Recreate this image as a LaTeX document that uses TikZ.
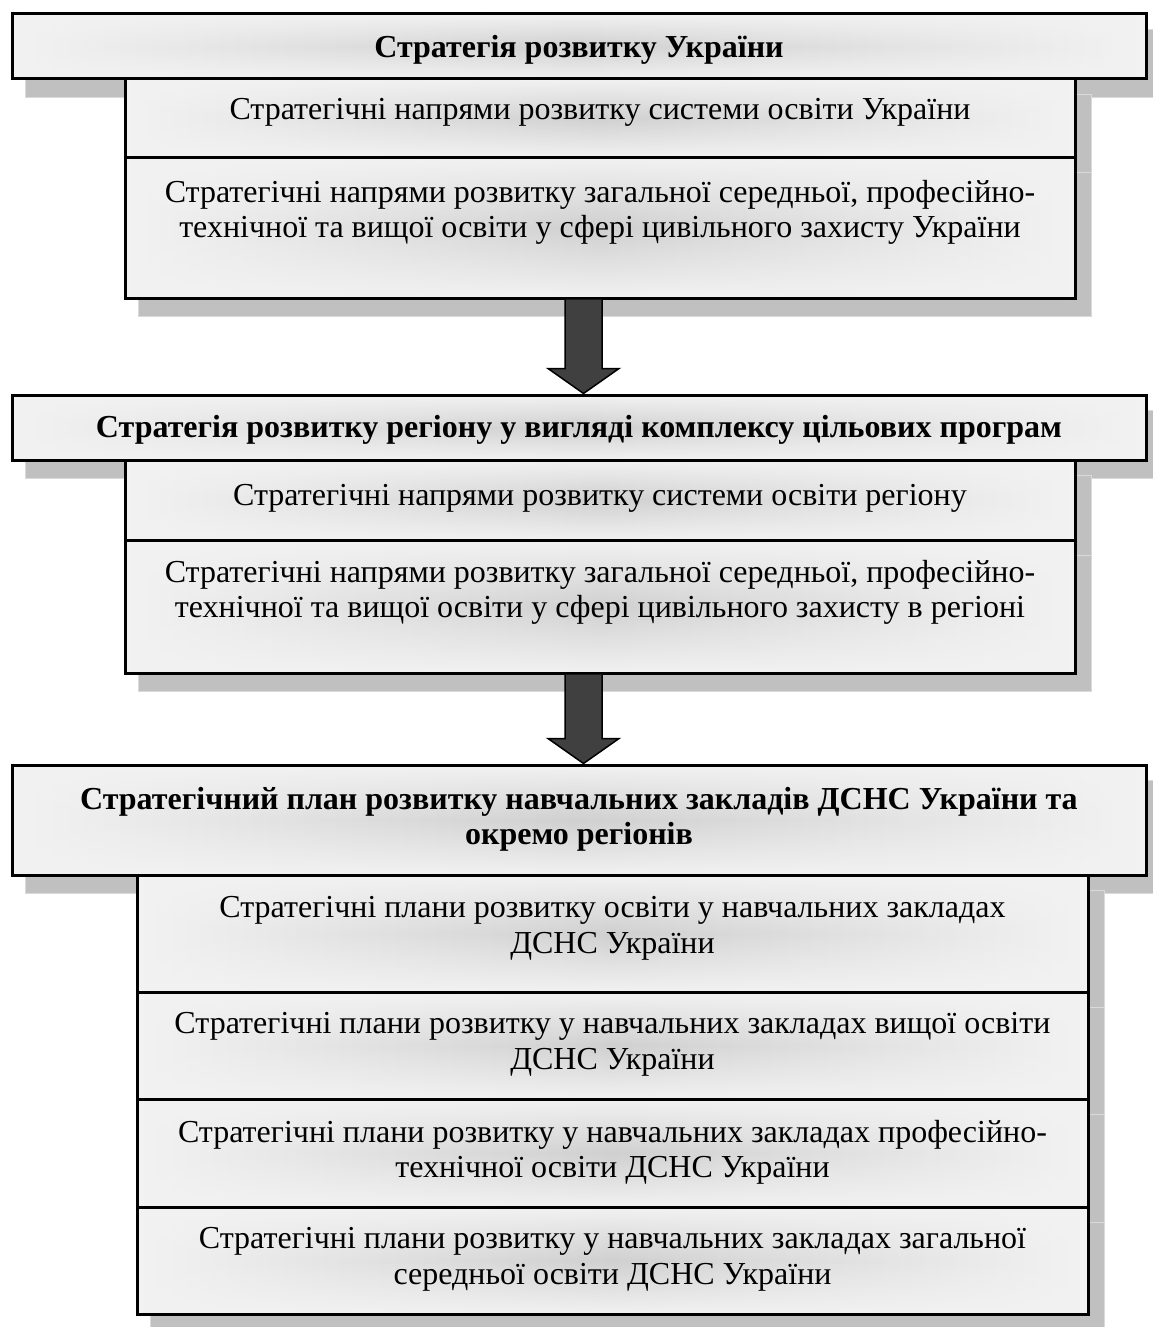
\documentclass[tikz,border=0pt]{standalone}
\usepackage{fontspec}
\setmainfont{Liberation Serif}
\usetikzlibrary{fit,calc,fadings}
\definecolor{edgec}{HTML}{F2F2F2}
\definecolor{midc}{HTML}{D0D0D0}
\definecolor{shadc}{HTML}{C0C0C0}
\definecolor{shadl}{HTML}{DADADA}
\definecolor{arrc}{HTML}{404040}
\pgfdeclarelayer{bg}
\pgfsetlayers{bg,main}
\tikzfading[name=vmid, top color=transparent!100, bottom color=transparent!100, middle color=transparent!0]
\tikzset{
 panel/.style={draw=black, line width=3pt, inner sep=0pt,
   preaction={fill=edgec},
   preaction={left color=edgec, right color=edgec, middle color=midc, path fading=vmid}},
 shadowbox/.style={fill=shadc, draw=shadl, line width=1pt},
 txt/.style={font=\fontsize{32}{35.5}\selectfont, align=center, inner sep=0pt},
 headtxt/.style={txt, font=\fontsize{32}{35.5}\selectfont\bfseries},
 bigarrow/.style={fill=arrc, draw=black, line width=1.5pt, line join=miter},
}
\begin{document}
\begin{tikzpicture}[x=1pt,y=-1pt]
\useasboundingbox (0,0) rectangle (1153,1327);
% boxes
\node[panel, fit={(12,14)(1146,79)}] (h1) {};
\node[panel, fit={(125,79)(1075,157)}] (s1a) {};
\node[panel, fit={(125,157)(1075,298)}] (s1b) {};
\node[panel, fit={(12,395)(1146,460)}] (h2) {};
\node[panel, fit={(125,460)(1075,540)}] (s2a) {};
\node[panel, fit={(125,540)(1075,673)}] (s2b) {};
\node[panel, fit={(12,765)(1146,875)}] (h3) {};
\node[panel, fit={(137,875)(1088,992)}] (s3a) {};
\node[panel, fit={(137,992)(1088,1099)}] (s3b) {};
\node[panel, fit={(137,1099)(1088,1207)}] (s3c) {};
\node[panel, fit={(137,1207)(1088,1314)}] (s3d) {};
% shadows
\begin{pgfonlayer}{bg}
\foreach \n in {h1,s1a,s1b,h2,s2a,s2b,h3,s3a,s3b,s3c,s3d}
  \draw[shadowbox] ([shift={(15,17)}]\n.north west) rectangle ([shift={(15,17)}]\n.south east);
\end{pgfonlayer}
% texts
\node[headtxt] (th1) at ($(h1.north)+(0,37)$) {Стратегія розвитку України};
\node[txt] (ts1a) at ($(s1a.north)+(0,35)$) {Стратегічні напрями розвитку системи освіти України};
\node[txt] (ts1b) at ($(s1b.north)+(0,57)$) {Стратегічні напрями розвитку загальної середньої, професійно-\\технічної та вищої освіти у сфері цивільного захисту України};
\node[headtxt] (th2) at ($(h2.north)+(0,36)$) {Стратегія розвитку регіону у вигляді комплексу цільових програм};
\node[txt] (ts2a) at ($(s2a.north)+(0,40)$) {Стратегічні напрями розвитку системи освіти регіону};
\node[txt] (ts2b) at ($(s2b.north)+(0,54)$) {Стратегічні напрями розвитку загальної середньої, професійно-\\технічної та вищої освіти у сфері цивільного захисту в регіоні};
\node[headtxt] (th3) at ($(h3.north)+(0,56)$) {Стратегічний план розвитку навчальних закладів ДСНС України та\\окремо регіонів};
\node[txt] (ts3a) at ($(s3a.north)+(0,55)$) {Стратегічні плани розвитку освіти у навчальних закладах\\ДСНС України};
\node[txt] (ts3b) at ($(s3b.north)+(0,54)$) {Стратегічні плани розвитку у навчальних закладах вищої освіти\\ДСНС України};
\node[txt] (ts3c) at ($(s3c.north)+(0,55)$) {Стратегічні плани розвитку у навчальних закладах професійно-\\технічної освіти ДСНС України};
\node[txt] (ts3d) at ($(s3d.north)+(0,54)$) {Стратегічні плани розвитку у навчальних закладах загальної\\середньої освіти ДСНС України};
% arrows
\coordinate (a1s) at ($(s1b.south)+(-16.5,0)$);
\coordinate (a1e) at (a1s |- h2.north);
\draw[bigarrow] ($(a1s)+(-18.5,0)$) -- ($(a1e)+(-18.5,-25)$) -- ($(a1e)+(-35.5,-25)$) -- (a1e) -- ($(a1e)+(35.5,-25)$) -- ($(a1e)+(18.5,-25)$) -- ($(a1s)+(18.5,0)$);
\coordinate (a2s) at ($(s2b.south)+(-16.5,0)$);
\coordinate (a2e) at (a2s |- h3.north);
\draw[bigarrow] ($(a2s)+(-18.5,0)$) -- ($(a2e)+(-18.5,-25)$) -- ($(a2e)+(-35.5,-25)$) -- (a2e) -- ($(a2e)+(35.5,-25)$) -- ($(a2e)+(18.5,-25)$) -- ($(a2s)+(18.5,0)$);
\end{tikzpicture}
\end{document}
